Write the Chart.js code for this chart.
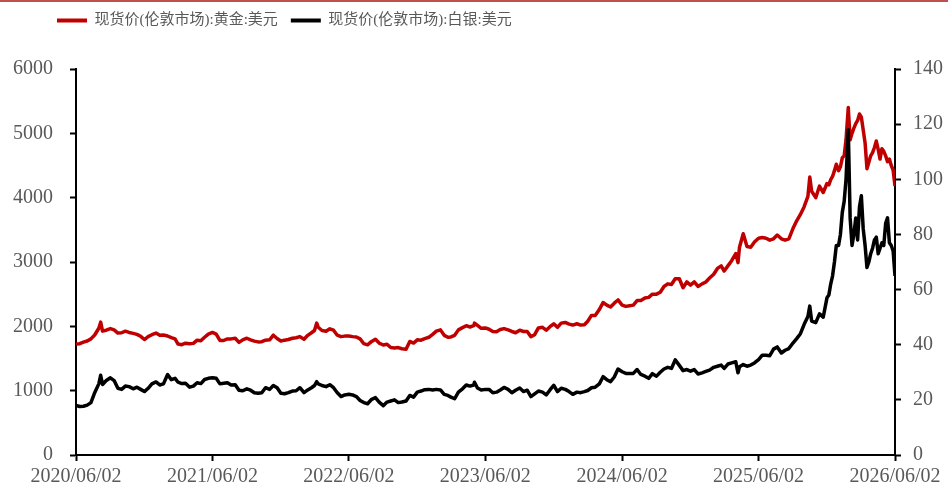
<!DOCTYPE html>
<html>
<head>
<meta charset="utf-8">
<script src="https://cdn.jsdelivr.net/npm/chart.js@4.4.1/dist/chart.umd.min.js"></script>
<style>
  body { margin: 0; background: #fff; }
  #wrap { position: relative; width: 948px; height: 489px; }
  #topline { position: absolute; left: 0; top: 0; width: 948px; height: 2px; background: #c0504d; }
</style>
</head>
<body>
<div id="wrap">
  <canvas id="chartContainer"></canvas>
  <div id="topline"></div>
</div>
<script>
// sample dates (roughly every 10 days, denser at the end)
const dates = [
  '2020-06-02','2020-06-12','2020-06-22','2020-07-02','2020-07-12','2020-07-22','2020-08-02','2020-08-07','2020-08-12','2020-08-22',
  '2020-09-02','2020-09-12','2020-09-22','2020-10-02','2020-10-12','2020-10-22','2020-11-02','2020-11-12','2020-11-22','2020-12-02',
  '2020-12-12','2020-12-22',
  '2021-01-02','2021-01-12','2021-01-22','2021-02-02','2021-02-12','2021-02-22','2021-03-02','2021-03-12','2021-03-22','2021-04-02',
  '2021-04-12','2021-04-22','2021-05-02','2021-05-12','2021-05-22','2021-06-02','2021-06-12','2021-06-22','2021-07-02','2021-07-12',
  '2021-07-22','2021-08-02','2021-08-12','2021-08-22','2021-09-02','2021-09-12','2021-09-22','2021-10-02','2021-10-12','2021-10-22',
  '2021-11-02','2021-11-12','2021-11-22','2021-12-02','2021-12-12','2021-12-22',
  '2022-01-02','2022-01-12','2022-01-22','2022-02-02','2022-02-12','2022-02-22','2022-03-02','2022-03-08','2022-03-12','2022-03-22',
  '2022-04-02','2022-04-12','2022-04-22','2022-05-02','2022-05-12','2022-05-22','2022-06-02','2022-06-12','2022-06-22','2022-07-02',
  '2022-07-12','2022-07-22','2022-08-02','2022-08-12','2022-08-22','2022-09-02','2022-09-12','2022-09-22','2022-10-02','2022-10-12',
  '2022-10-22','2022-11-02','2022-11-12','2022-11-22','2022-12-02','2022-12-12','2022-12-22',
  '2023-01-02','2023-01-12','2023-01-22','2023-02-02','2023-02-12','2023-02-22','2023-03-02','2023-03-12','2023-03-22','2023-04-02',
  '2023-04-12','2023-04-22','2023-05-02','2023-05-04','2023-05-12','2023-05-22','2023-06-02','2023-06-12','2023-06-22','2023-07-02',
  '2023-07-12','2023-07-22','2023-08-02','2023-08-12','2023-08-22','2023-09-02','2023-09-12','2023-09-22','2023-10-02','2023-10-12',
  '2023-10-22','2023-11-02','2023-11-12','2023-11-22','2023-12-02','2023-12-12','2023-12-22',
  '2024-01-02','2024-01-12','2024-01-22','2024-02-02','2024-02-12','2024-02-22','2024-03-02','2024-03-12','2024-03-22','2024-04-02',
  '2024-04-12','2024-04-22','2024-05-02','2024-05-12','2024-05-22','2024-06-02','2024-06-12','2024-06-22','2024-07-02','2024-07-12',
  '2024-07-22','2024-08-02','2024-08-12','2024-08-22','2024-09-02','2024-09-12','2024-09-22','2024-10-02','2024-10-12','2024-10-22',
  '2024-11-02','2024-11-12','2024-11-22','2024-12-02','2024-12-12','2024-12-22',
  '2025-01-02','2025-01-12','2025-01-22','2025-02-02','2025-02-12','2025-02-22','2025-03-02','2025-03-12','2025-03-22','2025-04-02',
  '2025-04-08','2025-04-12','2025-04-22','2025-05-02','2025-05-12','2025-05-22','2025-06-02','2025-06-12','2025-06-22','2025-07-02',
  '2025-07-12','2025-07-22','2025-08-02','2025-08-12','2025-08-22','2025-09-02','2025-09-12','2025-09-22','2025-10-02','2025-10-12',
  '2025-10-17','2025-10-22','2025-11-02','2025-11-12','2025-11-22','2025-12-02','2025-12-07','2025-12-12','2025-12-17','2025-12-22',
  '2025-12-27',
  '2026-01-02','2026-01-07','2026-01-12','2026-01-17','2026-01-22','2026-01-28','2026-02-02','2026-02-07','2026-02-12','2026-02-17',
  '2026-02-22','2026-02-27','2026-03-04','2026-03-09','2026-03-14','2026-03-19','2026-03-24','2026-03-29','2026-04-03','2026-04-08',
  '2026-04-13','2026-04-18','2026-04-23','2026-04-28','2026-05-03','2026-05-08','2026-05-13','2026-05-18','2026-05-23','2026-05-28',
  '2026-06-02'
];

// gold, USD/oz (left axis)
const goldValues = [
  1725,1730,1755,1772,1805,1865,1970,2065,1925,1940,
  1965,1945,1895,1900,1925,1905,1890,1875,1845,1795,
  1840,1870,
  1895,1860,1865,1850,1825,1805,1725,1715,1738,1728,
  1735,1785,1775,1830,1880,1905,1880,1780,1780,1805,
  1805,1815,1750,1790,1815,1790,1770,1758,1762,1785,
  1790,1862,1810,1772,1785,1795,
  1815,1822,1840,1800,1860,1900,1935,2050,1985,1935,
  1925,1962,1940,1862,1840,1848,1850,1840,1835,1805,
  1730,1712,1765,1800,1740,1710,1722,1670,1665,1670,
  1652,1645,1765,1740,1790,1785,1810,
  1830,1875,1925,1945,1860,1830,1835,1860,1945,1980,
  2010,1990,2010,2050,2015,1970,1975,1955,1920,1915,
  1950,1965,1945,1920,1900,1940,1920,1920,1840,1870,
  1975,1985,1940,1995,2040,1985,2050,
  2060,2035,2020,2040,2020,2025,2080,2170,2170,2260,
  2370,2330,2300,2360,2410,2330,2310,2320,2330,2400,
  2400,2440,2450,2500,2500,2530,2620,2660,2650,2740,
  2740,2600,2690,2640,2690,2620,
  2660,2690,2750,2810,2900,2940,2860,2940,3020,3130,
  2990,3230,3440,3240,3230,3310,3370,3380,3370,3340,
  3360,3420,3360,3340,3360,3520,3640,3740,3860,4020,
  4320,4100,4000,4180,4080,4220,4200,4280,4330,4420,
  4520,
  4420,4480,4620,4650,4900,5400,4900,5000,5080,5150,
  5200,5300,5250,5050,4850,4450,4550,4650,4700,4780,
  4880,4750,4600,4760,4720,4650,4560,4600,4500,4430,
  4180
];

// silver, USD/oz (right axis)
const silverValues = [
  18.0,17.6,17.7,18.1,19.0,22.6,25.8,28.9,25.6,27.0,
  28.0,27.0,24.2,23.8,25.0,24.8,24.0,24.6,23.8,23.0,
  24.2,25.8,
  26.5,25.4,25.8,29.2,27.3,27.8,26.4,25.9,26.0,24.6,
  25.0,26.2,25.9,27.4,27.8,28.0,27.8,25.8,26.0,26.2,
  25.4,25.5,23.5,23.3,24.0,23.5,22.6,22.4,22.6,24.4,
  23.8,25.2,24.4,22.4,22.2,22.6,
  23.2,23.3,24.4,22.6,23.6,24.4,25.2,26.6,25.8,25.2,
  24.8,25.5,24.4,22.6,21.2,21.8,22.0,21.8,21.2,19.8,
  19.0,18.6,20.2,20.8,19.2,17.9,19.2,19.6,20.0,19.0,
  19.2,19.6,21.6,21.0,22.8,23.2,23.7,
  23.8,23.6,23.8,23.6,22.0,21.6,21.0,20.4,22.8,24.0,
  25.4,25.0,25.4,26.4,24.3,23.6,23.8,23.8,22.6,22.8,
  23.6,24.5,23.8,22.6,23.5,24.3,23.0,23.5,21.2,22.2,
  23.2,22.8,21.8,23.6,25.3,23.0,24.2,
  23.8,23.0,22.0,22.8,22.6,23.0,23.4,24.4,24.6,25.8,
  28.4,27.3,26.6,28.3,31.2,30.2,29.6,29.6,29.6,31.0,
  29.2,28.6,27.8,29.5,28.6,30.0,31.2,31.8,31.4,34.5,
  32.5,30.6,31.0,30.4,31.0,29.4,
  29.8,30.3,30.8,31.8,32.2,32.6,31.4,33.0,33.4,33.8,
  29.8,32.0,32.8,32.2,32.6,33.4,34.6,36.2,36.2,36.0,
  38.4,39.2,37.0,38.0,38.6,40.6,42.2,44.0,47.4,50.2,
  54.0,48.6,48.0,51.2,50.0,57.0,58.0,62.0,65.0,70.0,
  76.0,
  76.0,80.0,88.0,92.0,100.0,118.0,86.0,76.0,80.0,86.0,
  78.0,90.0,94.0,82.0,76.0,68.0,70.0,73.0,75.0,78.0,
  79.0,73.0,75.0,77.0,76.0,84.0,86.0,77.0,76.0,74.0,
  65.0
];

const tickLabels = ['2020/06/02', '2021/06/02', '2022/06/02', '2023/06/02', '2024/06/02', '2025/06/02', '2026/06/02'];
const seriesNames = ['现货价(伦敦市场):黄金:美元', '现货价(伦敦市场):白银:美元'];

const start = Date.parse(dates[0]);
const toDay = s => (Date.parse(s.replace(/\//g, '-')) - start) / 86400000;
const tickDays = tickLabels.map(toDay);

const tickFont = { family: "'Liberation Serif', 'Times New Roman', serif", size: 20 };
const legendFont = { family: "'Liberation Serif', 'Noto Sans CJK SC', serif", size: 15 };

// give the legend a fixed height and move it left, like the original
const legendSpace = {
  id: 'legendSpace',
  beforeInit(chart) {
    const fit = chart.legend.fit;
    chart.legend.fit = function () {
      fit.bind(chart.legend)();
      this.height = 69;
    };
  },
  afterLayout(chart) {
    chart.legend.left = 44;
  }
};

let chartContainer = document.getElementById('chartContainer').getContext('2d');
let chart = new Chart(chartContainer, {
  type: 'line',
  data: {
    datasets: [{
      label: seriesNames[0],
      data: dates.map((d, i) => ({ x: toDay(d), y: goldValues[i] })),
      borderColor: '#c00000',
      backgroundColor: '#c00000',
      borderWidth: 3.5,
      pointRadius: 0,
      tension: 0,
      borderJoinStyle: 'round',
      yAxisID: 'y',
      order: 1
    }, {
      label: seriesNames[1],
      data: dates.map((d, i) => ({ x: toDay(d), y: silverValues[i] })),
      borderColor: '#000000',
      backgroundColor: '#000000',
      borderWidth: 3.5,
      pointRadius: 0,
      tension: 0,
      borderJoinStyle: 'round',
      yAxisID: 'y1',
      order: 0
    }]
  },
  options: {
    responsive: true,
    maintainAspectRatio: false,
    animation: false,
    layout: { padding: 0 },
    plugins: {
      tooltip: { enabled: false },
      legend: {
        position: 'top',
        align: 'start',
        labels: {
          boxWidth: 30,
          boxHeight: 4,
          padding: 13,
          color: '#595959',
          font: legendFont,
          sort: (a, b) => a.datasetIndex - b.datasetIndex,
          generateLabels: c => Chart.defaults.plugins.legend.labels.generateLabels(c)
            .map(l => Object.assign(l, { lineWidth: 0 }))
        }
      }
    },
    scales: {
      x: {
        type: 'linear',
        min: 0,
        max: tickDays[tickDays.length - 1],
        afterBuildTicks: s => { s.ticks = tickDays.map(v => ({ value: v })); },
        afterFit: s => { s.height = 34; },
        ticks: {
          autoSkip: false,
          maxRotation: 0,
          padding: 4,
          color: '#595959',
          font: tickFont,
          callback: (v, i) => tickLabels[i]
        },
        grid: { drawOnChartArea: false, drawTicks: true, tickLength: 6, tickWidth: 2, tickColor: '#000' },
        border: { color: '#000', width: 2 }
      },
      y: {
        position: 'left',
        min: 0,
        max: 6000,
        afterFit: s => { s.width = 76; },
        ticks: { stepSize: 1000, padding: 17, color: '#595959', font: tickFont, callback: v => String(v) },
        grid: { drawOnChartArea: false, drawTicks: true, tickLength: 6, tickWidth: 2, tickColor: '#000' },
        border: { color: '#000', width: 2 }
      },
      y1: {
        position: 'right',
        min: 0,
        max: 140,
        afterFit: s => { s.width = 53; },
        ticks: { stepSize: 20, padding: 12, color: '#595959', font: tickFont, callback: v => String(v) },
        grid: { drawOnChartArea: false, drawTicks: true, tickLength: 6, tickWidth: 2, tickColor: '#000' },
        border: { color: '#000', width: 2 }
      }
    }
  },
  plugins: [legendSpace]
});
</script>
</body>
</html>
